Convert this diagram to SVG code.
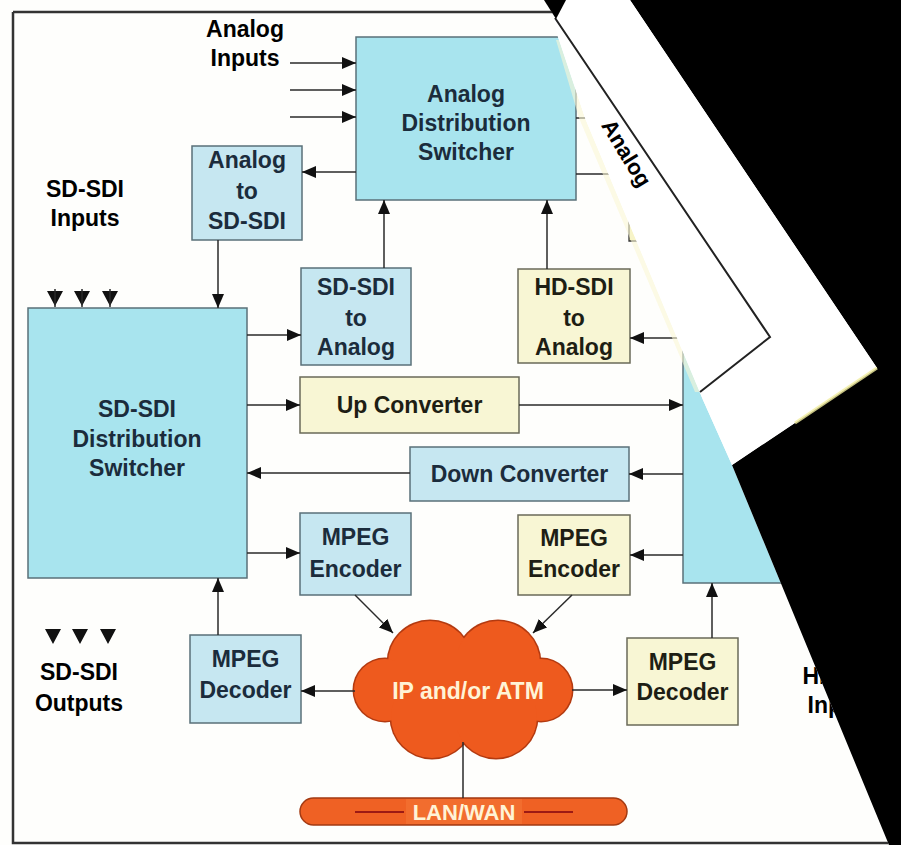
<svg xmlns="http://www.w3.org/2000/svg" width="901" height="845" viewBox="0 0 901 845">
<style>
.big{fill:#a8e4ee;stroke:#5a7078;stroke-width:1.5}
.blue{fill:#c6e7f1;stroke:#5a7078;stroke-width:1.5}
.yel{fill:#f8f6d4;stroke:#6a6a58;stroke-width:1.5}
.t{font-family:"Liberation Sans",Arial,sans-serif;font-weight:bold;font-size:23px;text-anchor:middle}
.tb{fill:#1b2c3c}
.ty{fill:#1e1e14}
.tk{fill:#000}
.tw{fill:#fff3d6}
.c{stroke:#2a2a2a;stroke-width:1.5;fill:none}
.a{marker-end:url(#ah)}
.tri{fill:#111}
</style>
<defs>
<marker id="ah" viewBox="0 0 14 12" refX="14" refY="6" markerWidth="14" markerHeight="12" markerUnits="userSpaceOnUse" orient="auto"><path d="M0,0 L14,6 L0,12 z" fill="#111"/></marker>
<clipPath id="page"><polygon points="0,0 549,0 558,37 585,118 703,400 732,465 889,845 0,845"/></clipPath>
</defs>
<rect x="0" y="0" width="901" height="845" fill="#fefefc"/>
<g clip-path="url(#page)">
<g id="frame" fill="none" stroke="#333" stroke-width="2.5">
<path d="M13,12 H600 M13,12 V843 H900"/>
</g>
<g id="n-right-box-edge"><rect x="629" y="195" width="24" height="46" fill="#f3f1b4"/><path d="M629,215 V241 H640" stroke="#333" stroke-width="1.3" fill="none"/></g>
<g id="n-hdds"><rect class="big" x="683" y="250" width="260" height="333"/></g>
<g id="n-ads"><rect class="big" x="356" y="37" width="220" height="163"/>
<text class="t tb" x="466" y="102">Analog</text><text class="t tb" x="466" y="131">Distribution</text><text class="t tb" x="466" y="160">Switcher</text></g>
<g id="n-a2sd"><rect class="blue" x="192" y="146" width="110" height="94"/>
<text class="t tb" x="247" y="168">Analog</text><text class="t tb" x="247" y="199">to</text><text class="t tb" x="247" y="229">SD-SDI</text></g>
<g id="n-sdds"><rect class="big" x="28" y="308" width="219" height="270"/>
<text class="t tb" x="137" y="417">SD-SDI</text><text class="t tb" x="137" y="447">Distribution</text><text class="t tb" x="137" y="476">Switcher</text></g>
<g id="n-sd2a"><rect class="blue" x="301" y="268" width="110" height="97"/>
<text class="t tb" x="356" y="295">SD-SDI</text><text class="t tb" x="356" y="326">to</text><text class="t tb" x="356" y="355">Analog</text></g>
<g id="n-hd2a"><rect class="yel" x="518" y="269" width="112" height="94"/>
<text class="t ty" x="574" y="295">HD-SDI</text><text class="t ty" x="574" y="326">to</text><text class="t ty" x="574" y="355">Analog</text></g>
<g id="n-up"><rect class="yel" x="300" y="377" width="219" height="56"/>
<text class="t ty" x="409.5" y="413">Up Converter</text></g>
<g id="n-down"><rect class="blue" x="410" y="447" width="219" height="54"/>
<text class="t tb" x="519.5" y="482">Down Converter</text></g>
<g id="n-enc-sd"><rect class="blue" x="300" y="513" width="111" height="82"/>
<text class="t tb" x="355.5" y="545">MPEG</text><text class="t tb" x="355.5" y="577">Encoder</text></g>
<g id="n-enc-hd"><rect class="yel" x="518" y="515" width="112" height="80"/>
<text class="t ty" x="574" y="546">MPEG</text><text class="t ty" x="574" y="577">Encoder</text></g>
<g id="n-dec-sd"><rect class="blue" x="190" y="635" width="111" height="88"/>
<text class="t tb" x="245.5" y="667">MPEG</text><text class="t tb" x="245.5" y="698">Decoder</text></g>
<g id="n-dec-hd"><rect class="yel" x="627" y="638" width="111" height="87"/>
<text class="t ty" x="682.5" y="670">MPEG</text><text class="t ty" x="682.5" y="700">Decoder</text></g>
<g id="n-cloud">
<g fill="#b33a10">
<circle cx="430" cy="663" r="43.5"/><circle cx="498" cy="663" r="43.5"/><circle cx="385" cy="690" r="32.5"/><circle cx="541" cy="690" r="32.5"/><circle cx="432" cy="717" r="42.5"/><circle cx="496" cy="717" r="42.5"/>
</g>
<g fill="#ee5a1e">
<circle cx="430" cy="663" r="42"/><circle cx="498" cy="663" r="42"/><circle cx="385" cy="690" r="31"/><circle cx="541" cy="690" r="31"/><circle cx="432" cy="717" r="41"/><circle cx="496" cy="717" r="41"/><rect x="395" y="650" width="140" height="80"/>
</g>
<text class="t tw" x="468" y="699">IP and/or ATM</text>
</g>
<g id="n-lan"><rect x="300" y="798" width="327" height="27" rx="13.5" fill="#ef6124" stroke="#a33a12" stroke-width="1.5"/>
<rect x="406" y="799" width="116" height="25" fill="#f26d2e"/>
<path d="M355,812 H404 M524,812 H573" stroke="#9c1a14" stroke-width="2"/>
<text class="t tw" x="464" y="820" style="font-size:22px">LAN/WAN</text></g>
<g id="n-analog-inputs"><text class="t tk" x="245" y="37">Analog</text><text class="t tk" x="245" y="66">Inputs</text></g>
<g id="n-sdi-in"><text class="t tk" x="85" y="197">SD-SDI</text><text class="t tk" x="85" y="226">Inputs</text>
<path class="tri" d="M47,291 H63 L55,306 z M74,291 H90 L82,306 z M102,291 H118 L110,306 z"/>
<path class="c" d="M55,289 V307 M82,289 V307 M110,289 V307"/></g>
<g id="n-sdi-out"><path class="tri" d="M45,629 H61 L53,644 z M72,629 H88 L80,644 z M100,629 H116 L108,644 z"/>
<text class="t tk" x="79" y="680">SD-SDI</text><text class="t tk" x="79" y="711">Outputs</text></g>
<g id="n-hd-in"><text class="t tk" x="842" y="684">HD-SDI</text><text class="t tk" x="842" y="713">Inputs</text></g>
<g id="connectors">
<path class="c a" d="M290,63 H356"/>
<path class="c a" d="M290,90 H356"/>
<path class="c a" d="M290,117 H356"/>
<path class="c a" d="M356,172 H302"/>
<path class="c" d="M576,118 H600 M576,174 H625"/>
<path class="c a" d="M218,240 V308"/>
<path class="c a" d="M384,268 V200"/>
<path class="c a" d="M547,269 V200"/>
<path class="c a" d="M247,335 H301"/>
<path class="c a" d="M683,338 H630"/>
<path class="c a" d="M247,405 H300"/>
<path class="c a" d="M519,405 H683"/>
<path class="c a" d="M683,474 H629"/>
<path class="c a" d="M410,473 H247"/>
<path class="c a" d="M247,553 H300"/>
<path class="c a" d="M683,555 H630"/>
<path class="c a" d="M355,595 L393,633"/>
<path class="c a" d="M572,595 L533,633"/>
<path class="c a" d="M218,635 V578"/>
<path class="c a" d="M712,638 V583"/>
<path class="c a" d="M355,691 H301"/>
<path class="c a" d="M572,690 H627"/>
<path class="c" d="M463,742 V798"/>
</g>
<polygon points="556,40 563,40 585,118 701,392 695,392 579,118" fill="#faf7d6" opacity="0.6"/>
</g>
<g id="fold">
<polygon points="630,0 901,0 901,845 889,845 732,465 877,368" fill="#000"/>
<polygon points="549,0 630,0 877,368 732,465 703,400 585,118 558,37" fill="#fff"/>
<path d="M555,18 L770,337 L700,392" fill="none" stroke="#222" stroke-width="2"/>
<polygon points="544,0 566,0 556,19" fill="#000"/>
<path d="M877,368 L795,423" stroke="#f2eea0" stroke-width="3" opacity="0.8"/>
<text class="t tk" x="0" y="0" style="font-size:22px" transform="translate(620,157) rotate(58.7)">Analog</text>
</g>
</svg>
